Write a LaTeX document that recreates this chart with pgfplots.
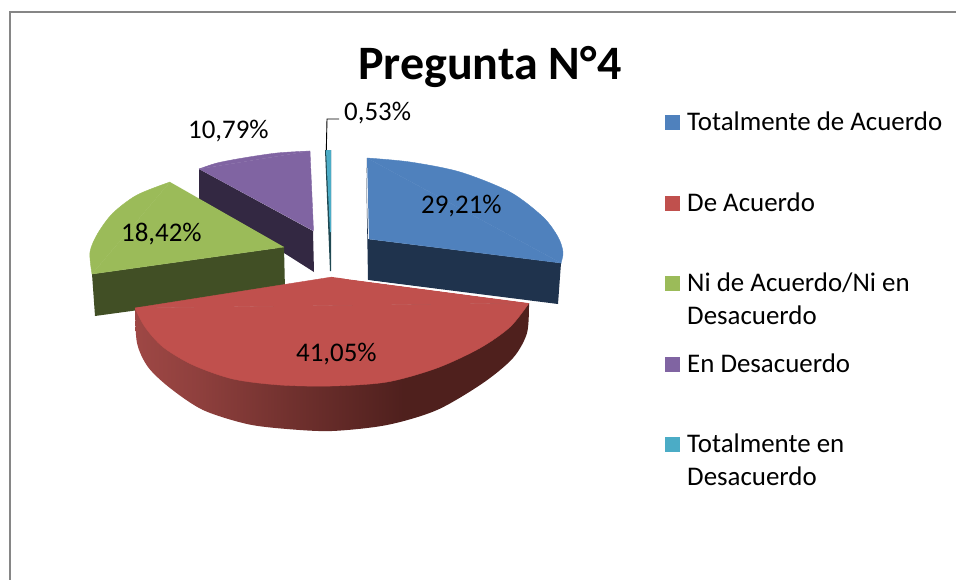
\documentclass[border=0pt]{standalone}
\usepackage{pgfplots}
\pgfplotsset{compat=1.18}
\usepackage{fontspec}
\setmainfont{Carlito}
\definecolor{cblue}{HTML}{4F81BD}
\definecolor{cbluedk}{HTML}{1F334D}
\definecolor{cred}{HTML}{C0504D}
\definecolor{cgreen}{HTML}{9BBB59}
\definecolor{cgreendk}{HTML}{414F25}
\definecolor{cpurple}{HTML}{8064A2}
\definecolor{cpurpledk}{HTML}{332842}
\definecolor{ccyan}{HTML}{4BACC6}
\definecolor{ccyandk}{HTML}{1F4852}
\definecolor{cframe}{HTML}{868686}
\pgfdeclarehorizontalshading{redside}{100bp}{
  rgb(0bp)=(0.62,0.28,0.27);
  rgb(25bp)=(0.62,0.28,0.27);
  rgb(33bp)=(0.56,0.25,0.24);
  rgb(45bp)=(0.44,0.19,0.18);
  rgb(59bp)=(0.31,0.125,0.115);
  rgb(100bp)=(0.31,0.125,0.115)}
\begin{document}
\begin{tikzpicture}
\useasboundingbox (0,0) rectangle (956bp,580bp);
\begin{axis}[at={(0,0)},anchor=south west,hide axis,scale only axis,
  width=956bp,height=580bp,xmin=0,xmax=956,ymin=0,ymax=580,y dir=reverse,clip=false,
  every axis plot/.append style={forget plot}]
% frame
\addplot[cframe,line width=2bp] coordinates {(9.5,580)(9.5,12)(956,12)};
% purple
\addplot[draw=none,fill=cpurpledk] coordinates {(199,169)(313,231)(314,272)(199,199)};
\addplot[draw=cpurple,line width=0.4bp,fill=cpurple] coordinates {(199,169)(310,151)(313.5,231)};
\addplot[draw=cpurple,line width=0.4bp,fill=cpurple,smooth] coordinates {(199,169)(217,163)(243,158)(277,153)(310,151)};
% green
\addplot[draw=none,fill=cgreendk] coordinates {(92,274)(284,247)(285,290)(95,316)};
\addplot[draw=cgreen,line width=0.4bp,fill=cgreen] coordinates {(170,182)(92,274)(284,247)};
\addplot[draw=cgreen,line width=0.4bp,fill=cgreen,smooth] coordinates {(170,182)(137,195)(113,213)(98,233)(90,252)(92,274)};
% cyan
\addplot[draw=none,fill=ccyandk] coordinates {(325,150)(331,150)(331,271)(330,271)};
\addplot[draw=none,fill=ccyan] coordinates {(326,150)(331,150)(331,232)(330,232)};
\addplot[black,line width=0.9bp] coordinates {(326.3,150)(327,119)(339,119)};
% blue
\addplot[draw=none,fill=cbluedk] coordinates {(366,158)(368,239)(561,263)(558,304)(368,280)};
\addplot[draw=cblue,line width=0.4bp,fill=cblue] coordinates {(367,158)(561,263)(369,239)};
\addplot[draw=cblue,line width=0.4bp,fill=cblue,smooth] coordinates {(367,158)(410,162)(460,172)(510,192)(543,217)(558,237)(563,252)(561,263)};
% red
\addplot[draw=none,shading=redside,smooth] coordinates {(135,308)(137,343)(148,367)(170,388)(203,410)(247,424)(287,429)(332,431)(387,425)(437,410)(483,383)(513,358)(527,333)(529,303)};
\addplot[draw=cred,line width=0.4bp,fill=cred] coordinates {(332,277)(135,308)(529,303)};
\addplot[draw=cred,line width=0.4bp,fill=cred,smooth] coordinates {(135,308)(145,327)(163,347)(193,365)(233,379)(280,385)(332,386)(387,382)(437,368)(480,348)(510,327)(529,303)};
\addplot[white,line width=1.3bp] coordinates {(345,278)(531,302.5)};
% legend keys
\addplot[draw=none,fill=cblue] coordinates {(665,115)(680,115)(680,130)(665,130)};
\addplot[draw=none,fill=cred] coordinates {(665,196)(680,196)(680,211)(665,211)};
\addplot[draw=none,fill=cgreen] coordinates {(665,276)(680,276)(680,291)(665,291)};
\addplot[draw=none,fill=cpurple] coordinates {(665,357)(680,357)(680,372)(665,372)};
\addplot[draw=none,fill=ccyan] coordinates {(665,437)(680,437)(680,452)(665,452)};
% texts
\newcommand{\lt}[3]{\node[anchor=base west,inner sep=0pt,font=\fontsize{26.9bp}{30bp}\selectfont] at (axis cs:#1,#2) {#3};}
\lt{687}{130}{Totalmente de Acuerdo}
\lt{687}{211}{De Acuerdo}
\lt{687}{291}{Ni de Acuerdo/Ni en}
\lt{687}{324}{Desacuerdo}
\lt{687}{372}{En Desacuerdo}
\lt{687}{452}{Totalmente en}
\lt{687}{485}{Desacuerdo}
\lt{421}{213}{29,21\%}
\lt{121}{241}{18,42\%}
\lt{296}{361}{41,05\%}
\lt{188}{138}{10,79\%}
\lt{344}{120}{0,53\%}
\node[anchor=base west,inner sep=0pt,font=\fontsize{48bp}{54bp}\selectfont\bfseries] at (axis cs:358,79) {Pregunta N°4};
\end{axis}
\end{tikzpicture}
\end{document}
